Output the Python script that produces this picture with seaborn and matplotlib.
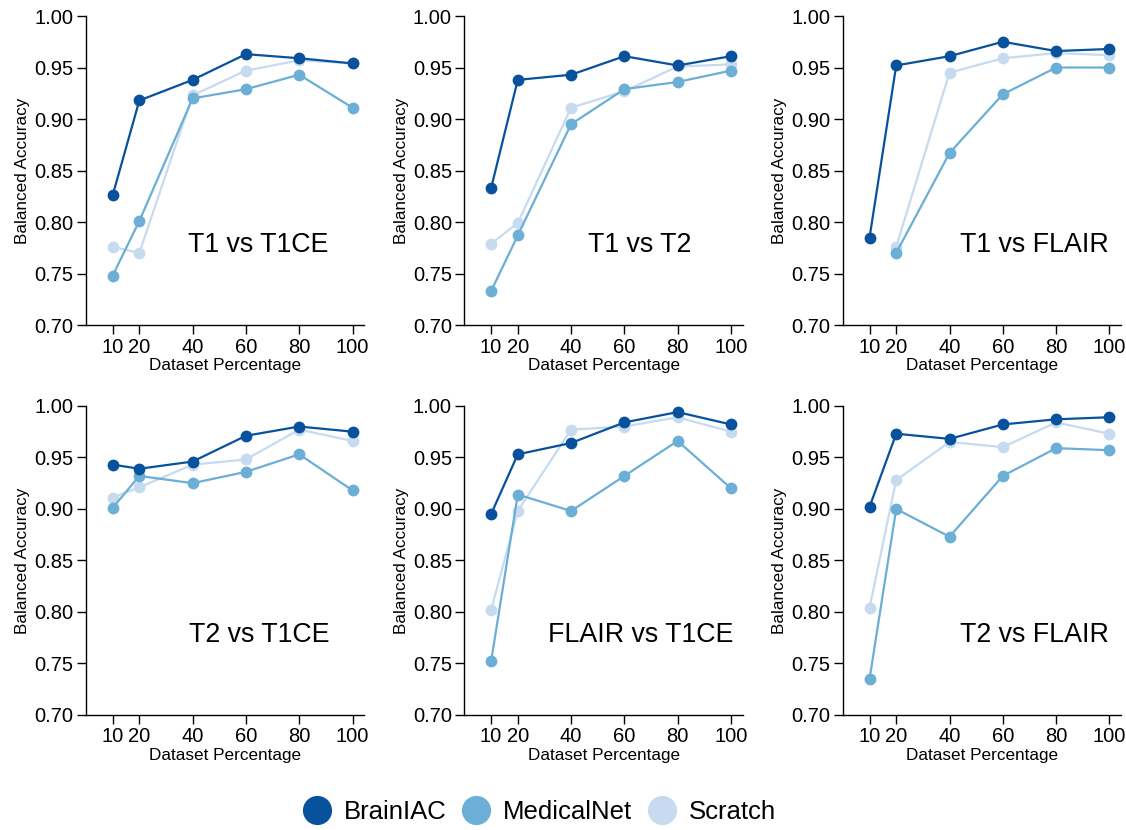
import numpy as np
import pandas as pd
import matplotlib
matplotlib.use("Agg")
import matplotlib.pyplot as plt
import seaborn as sns
from matplotlib.lines import Line2D

# dataset percentages on the x axis
pct = [10, 20, 40, 60, 80, 100]
models = ["BrainIAC", "MedicalNet", "Scratch"]
colors = ["#08519c", "#6baed6", "#c6dbef"]

titles = ["T1 vs T1CE", "T1 vs T2", "T1 vs FLAIR",
          "T2 vs T1CE", "FLAIR vs T1CE", "T2 vs FLAIR"]

# balanced accuracy per panel
brainiac = [
    [0.826, 0.918, 0.938, 0.963, 0.959, 0.954],
    [0.833, 0.938, 0.943, 0.961, 0.952, 0.961],
    [0.785, 0.952, 0.961, 0.975, 0.966, 0.968],
    [0.943, 0.939, 0.946, 0.971, 0.980, 0.975],
    [0.895, 0.953, 0.964, 0.984, 0.994, 0.982],
    [0.902, 0.973, 0.968, 0.982, 0.987, 0.989],
]
medicalnet = [
    [0.748, 0.801, 0.920, 0.929, 0.943, 0.911],
    [0.733, 0.787, 0.895, 0.929, 0.936, 0.947],
    [np.nan, 0.770, 0.867, 0.924, 0.950, 0.950],
    [0.901, 0.932, 0.925, 0.936, 0.953, 0.918],
    [0.752, 0.914, 0.898, 0.932, 0.966, 0.920],
    [0.735, 0.900, 0.873, 0.932, 0.959, 0.957],
]
scratch = [
    [0.776, 0.770, 0.923, 0.947, 0.957, 0.954],
    [0.779, 0.799, 0.911, 0.927, 0.951, 0.953],
    [np.nan, 0.776, 0.945, 0.959, 0.964, 0.962],
    [0.911, 0.921, 0.943, 0.948, 0.977, 0.966],
    [0.802, 0.898, 0.977, 0.980, 0.989, 0.975],
    [0.804, 0.928, 0.965, 0.960, 0.984, 0.973],
]

# where the panel label sits (axes fraction x)
label_x = [0.618, 0.629, 0.687, 0.621, 0.633, 0.687]

sns.set_style("ticks")
plt.rcParams["font.family"] = ["Liberation Sans", "DejaVu Sans"]
plt.rcParams["text.color"] = "black"
plt.rcParams["axes.labelcolor"] = "black"

fig, axes = plt.subplots(2, 3, figsize=(11.26, 8.30), dpi=100)
plt.subplots_adjust(left=0.0764, right=0.9959, bottom=0.1386, top=0.9807,
                    wspace=0.359, hspace=0.2616)

palette = dict(zip(models, colors))

for i, ax in enumerate(axes.flat):
    df = pd.DataFrame({
        "pct": pct * 3,
        "acc": brainiac[i] + medicalnet[i] + scratch[i],
        "model": ["BrainIAC"] * 6 + ["MedicalNet"] * 6 + ["Scratch"] * 6,
    })
    # scratch drawn first, BrainIAC on top
    for m in reversed(models):
        sub = df[df["model"] == m].dropna()
        sns.lineplot(data=sub, x="pct", y="acc", color=palette[m], ax=ax,
                     marker="o", markersize=8.5, markeredgewidth=0,
                     linewidth=1.6, legend=False)
    ax.set_xlim(0, 104.5)
    ax.set_ylim(0.70, 1.00)
    ax.set_xticks(pct)
    ax.set_yticks(np.arange(0.70, 1.001, 0.05))
    ax.set_yticklabels([f"{v:.2f}" for v in np.arange(0.70, 1.001, 0.05)])
    ax.tick_params(labelsize=14.5, length=6.5, width=1, colors="black", pad=2.5)
    ax.set_xlabel("Dataset Percentage", fontsize=12.3, labelpad=1)
    ax.set_ylabel("Balanced Accuracy", fontsize=12.3, labelpad=3)
    for s in ["left", "bottom"]:
        ax.spines[s].set_color("black")
        ax.spines[s].set_linewidth(1)
    sns.despine(ax=ax)
    ax.text(label_x[i], 0.2587, titles[i], transform=ax.transAxes,
            fontsize=19.3, ha="center", va="center")

handles = [Line2D([], [], linestyle="none", marker="o", markersize=21,
                  markerfacecolor=c, markeredgewidth=0) for c in colors]
fig.legend(handles, models, loc="center", bbox_to_anchor=(0.474, 0.022),
           ncol=3, frameon=False, fontsize=18.5, handletextpad=0.05,
           columnspacing=0.15)

plt.savefig("out.png", dpi=100)
